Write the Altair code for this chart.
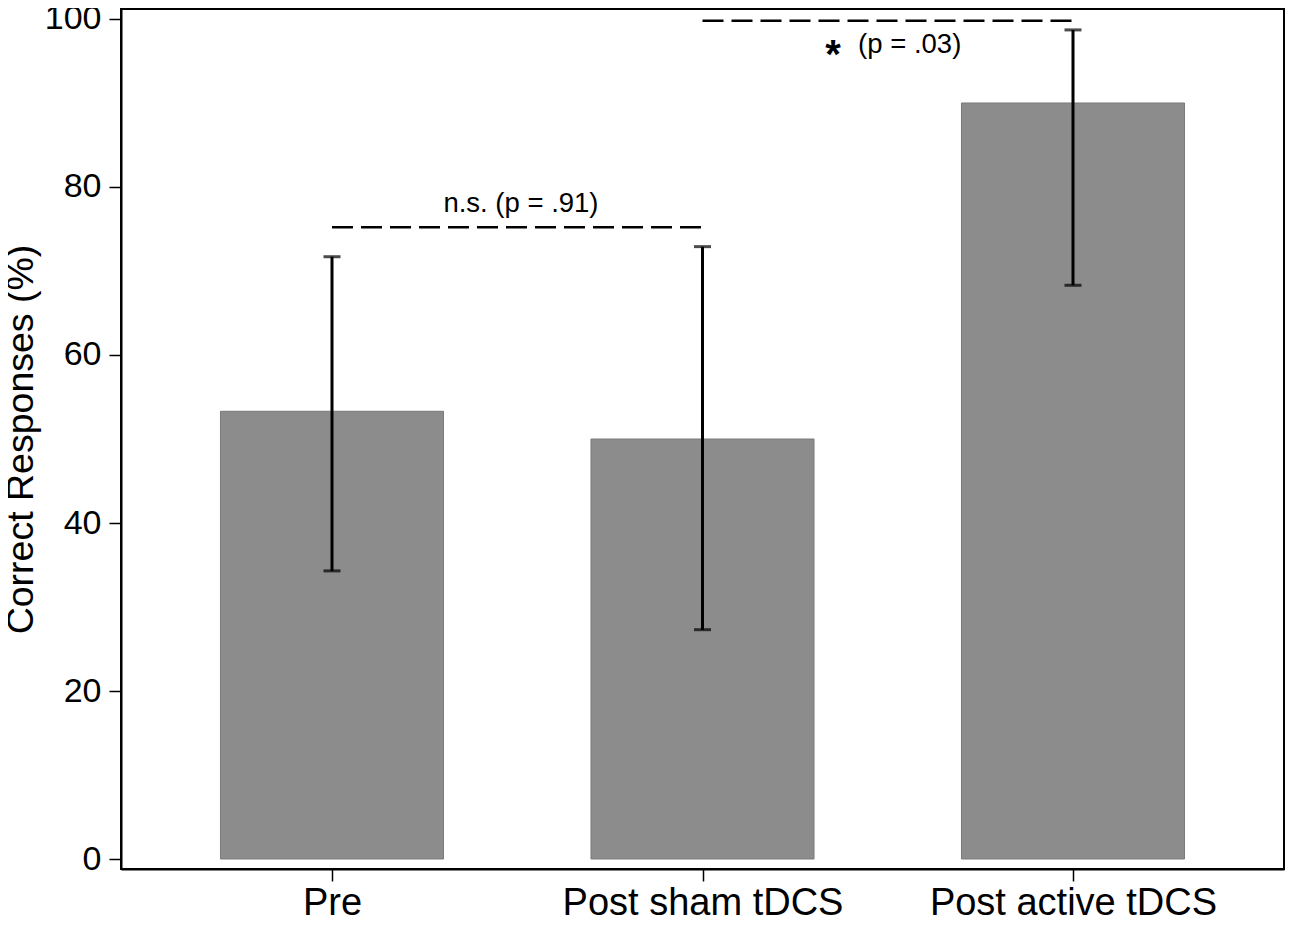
import json
import altair as alt
import pandas as pd

# ---- data ----
categories = ["Pre", "Post sham tDCS", "Post active tDCS"]
means = [53.3, 50.0, 90.0]
err_low = [34.3, 27.3, 68.3]
err_high = [71.7, 72.9, 98.7]

# significance brackets (from category index, to category index, height)
sig_from = [0, 1]
sig_to = [1, 2]
sig_y = [75.2, 99.8]

# annotation texts
ann_text = ["n.s. (p = .91)", "(p = .03)"]
ann_x = [0.51, 1.42]
ann_y = [78.0, 96.9]
ann_align = ["center", "left"]
star_text = ["*"]
star_x = [1.352]
star_y = [95.6]

FONT = "Liberation Sans"
bar_half = 0.301

bars_df = pd.DataFrame({
    "cat": categories,
    "idx": list(range(len(categories))),
    "mean": means,
    "lo": err_low,
    "hi": err_high,
})
sig_df = pd.DataFrame({"x1": sig_from, "x2": sig_to, "y": sig_y})
ann_df = pd.DataFrame({"x": ann_x, "y": ann_y, "t": ann_text, "al": ann_align})
star_df = pd.DataFrame({"x": star_x, "y": star_y, "t": star_text})

xscale = alt.Scale(domain=[-0.5695, 2.5695], nice=False, zero=False)
yscale = alt.Scale(domain=[-1.19, 101.19], nice=False, zero=False)

label_expr = json.dumps(categories) + "[datum.value]"

x_axis = alt.Axis(
    values=list(range(len(categories))), labelExpr=label_expr, title=None,
    grid=False, labelFont=FONT, labelFontSize=38, labelColor="black",
    tickColor="black", tickSize=12, tickWidth=1.5, domainColor="black",
    domainWidth=2, labelPadding=3, labelFlush=False, labelLimit=0,
    labelOverlap=False,
)
y_axis = alt.Axis(
    values=[0, 20, 40, 60, 80, 100], title="Correct Responses (%)", grid=False,
    labelFont=FONT, labelFontSize=34, labelColor="black", tickColor="black",
    tickSize=12, tickWidth=1.5, domainColor="black", domainWidth=2,
    labelPadding=8, titleFont=FONT, titleFontSize=37.5, titleFontWeight="normal",
    titleColor="black", titlePadding=4, labelFlush=False,
)

base = alt.Chart(bars_df)

bars = base.transform_calculate(
    xa=f"datum.idx - {bar_half}", xb=f"datum.idx + {bar_half}", zero="0"
).mark_bar(color="#8c8c8c", stroke="#7a7a7a", strokeWidth=1).encode(
    x=alt.X("xa:Q", scale=xscale, axis=x_axis),
    x2="xb:Q",
    y=alt.Y("mean:Q", scale=yscale, axis=y_axis),
    y2="zero:Q",
)

err = base.mark_rule(color="black", strokeWidth=3).encode(
    x=alt.X("idx:Q", scale=xscale),
    y=alt.Y("lo:Q", scale=yscale),
    y2="hi:Q",
)
cap_lo = base.mark_tick(color="black", thickness=3, size=17, orient="horizontal").encode(
    x=alt.X("idx:Q", scale=xscale), y=alt.Y("lo:Q", scale=yscale)
)
cap_hi = base.mark_tick(color="black", thickness=3, size=17, orient="horizontal").encode(
    x=alt.X("idx:Q", scale=xscale), y=alt.Y("hi:Q", scale=yscale)
)

sig = alt.Chart(sig_df).mark_rule(color="black", strokeWidth=2.5, strokeDash=[21, 8]).encode(
    x=alt.X("x1:Q", scale=xscale), x2="x2:Q", y=alt.Y("y:Q", scale=yscale)
)

ann_c = alt.Chart(ann_df).transform_filter("datum.al == 'center'").mark_text(
    font=FONT, fontSize=27.5, color="black", align="center", baseline="middle"
).encode(x=alt.X("x:Q", scale=xscale), y=alt.Y("y:Q", scale=yscale), text="t:N")
ann_l = alt.Chart(ann_df).transform_filter("datum.al == 'left'").mark_text(
    font=FONT, fontSize=27.5, color="black", align="left", baseline="middle"
).encode(x=alt.X("x:Q", scale=xscale), y=alt.Y("y:Q", scale=yscale), text="t:N")
star = alt.Chart(star_df).mark_text(
    font=FONT, fontSize=40, fontWeight="bold", color="black", align="center", baseline="middle"
).encode(x=alt.X("x:Q", scale=xscale), y=alt.Y("y:Q", scale=yscale), text="t:N")

chart = alt.layer(bars, err, cap_lo, cap_hi, sig, ann_c, ann_l, star).properties(
    width=1163, height=860,
    autosize=alt.AutoSizeParams(type="none"),
    padding={"left": 113, "top": 1, "right": 1, "bottom": 48},
    background="white",
).configure_view(stroke="black", strokeWidth=2)

chart.save("out.html", embed_options={"renderer": "svg", "actions": False})
